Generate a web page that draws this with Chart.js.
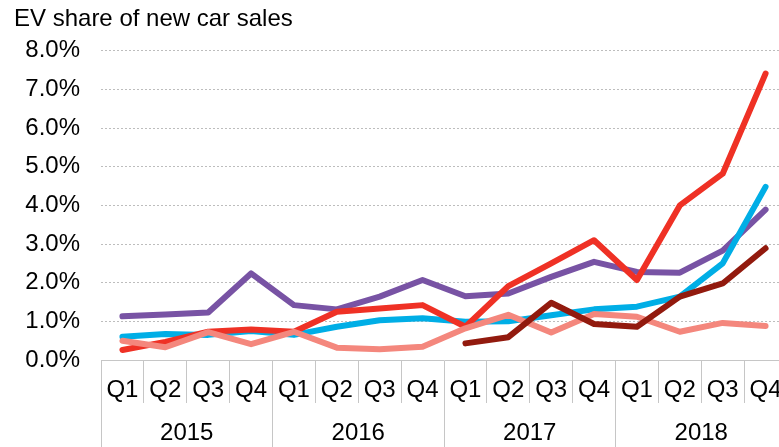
<!DOCTYPE html>
<html>
<head>
<meta charset="utf-8">
<script src="https://cdn.jsdelivr.net/npm/chart.js@4"></script>
<style>
  html, body { margin: 0; padding: 0; overflow: hidden; background: #fff; }
  #wrap { width: 788px; height: 447px; position: relative; }
</style>
</head>
<body>
<div id="wrap"><canvas id="grafico"></canvas></div>
<script>
// dados (% das vendas de carros novos)
const trimestres = ['Q1', 'Q2', 'Q3', 'Q4', 'Q1', 'Q2', 'Q3', 'Q4', 'Q1', 'Q2', 'Q3', 'Q4', 'Q1', 'Q2', 'Q3', 'Q4'];
const anos = ['2015', '2016', '2017', '2018'];

const serieVermelha = [0.26, 0.47, 0.73, 0.79, 0.73, 1.25, 1.33, 1.42, 0.86, 1.91, 2.50, 3.10, 2.07, 4.00, 4.82, 7.41];
const serieAzul = [0.60, 0.67, 0.65, 0.75, 0.65, 0.86, 1.03, 1.08, 0.99, 1.00, 1.16, 1.31, 1.38, 1.64, 2.50, 4.48];
const serieRoxa = [1.13, 1.18, 1.23, 2.24, 1.42, 1.31, 1.64, 2.07, 1.65, 1.72, 2.15, 2.54, 2.28, 2.26, 2.83, 3.89];
const serieVinho = [null, null, null, null, null, null, null, null, 0.43, 0.59, 1.48, 0.93, 0.86, 1.64, 1.98, 2.89];
const serieSalmao = [0.50, 0.33, 0.72, 0.41, 0.73, 0.32, 0.28, 0.34, 0.82, 1.17, 0.71, 1.19, 1.12, 0.73, 0.96, 0.88];

const fonte = { family: 'Liberation Sans, Arial, sans-serif', size: 24 };
const corLinhaEixo = '#c6c6c6';

function linha(dados, cor) {
    return {
        data: dados,
        borderColor: cor,
        backgroundColor: cor,
        borderWidth: 6,
        borderCapStyle: 'round',
        borderJoinStyle: 'round',
        pointRadius: 0,
        tension: 0,
        fill: false,
        spanGaps: false
    };
}

new Chart(document.getElementById('grafico'), {
    type: 'line',
    data: {
        labels: trimestres,
        // o primeiro dataset fica por cima
        datasets: [
            linha(serieVinho, '#921a0e'),
            linha(serieSalmao, '#f4877d'),
            linha(serieVermelha, '#ef3125'),
            linha(serieAzul, '#00aee6'),
            linha(serieRoxa, '#7853a4')
        ]
    },
    options: {
        responsive: true,
        maintainAspectRatio: false,
        animation: false,
        layout: { padding: { left: 14, right: 1, top: 0, bottom: 0 } },
        plugins: {
            legend: { display: false },
            tooltip: { enabled: false },
            title: {
                display: true,
                text: 'EV share of new car sales',
                align: 'start',
                color: '#000',
                font: { family: fonte.family, size: 24, weight: 'normal' },
                padding: { top: 5, bottom: 17 }
            }
        },
        scales: {
            y: {
                min: 0,
                max: 8,
                ticks: {
                    stepSize: 1,
                    color: '#000',
                    font: fonte,
                    padding: 21,
                    callback: function (value) {
                        return value.toFixed(1) + '%';
                    }
                },
                grid: {
                    drawTicks: false,
                    color: function (ctx) {
                        return ctx.tick.value === 0 ? 'rgba(0,0,0,0)' : '#bdbdbd';
                    },
                    lineWidth: 1
                },
                border: { display: false, dash: [2, 2] },
                afterFit: function (scale) { scale.width = 87; }
            },
            x: {
                offset: true,
                ticks: { color: '#000', font: fonte, padding: -27, maxRotation: 0, autoSkip: false },
                grid: {
                    offset: true,
                    drawOnChartArea: false,
                    tickLength: 43,
                    color: corLinhaEixo
                },
                border: { display: true, color: corLinhaEixo, width: 1 },
                afterFit: function (scale) { scale.height = 43; }
            },
            ano: {
                type: 'category',
                position: 'bottom',
                labels: anos,
                offset: true,
                ticks: { color: '#000', font: fonte, padding: -28, maxRotation: 0 },
                grid: {
                    offset: true,
                    drawOnChartArea: false,
                    tickLength: 44,
                    color: corLinhaEixo
                },
                border: { display: false },
                afterFit: function (scale) { scale.height = 44; }
            }
        }
    }
});
</script>
</body>
</html>
